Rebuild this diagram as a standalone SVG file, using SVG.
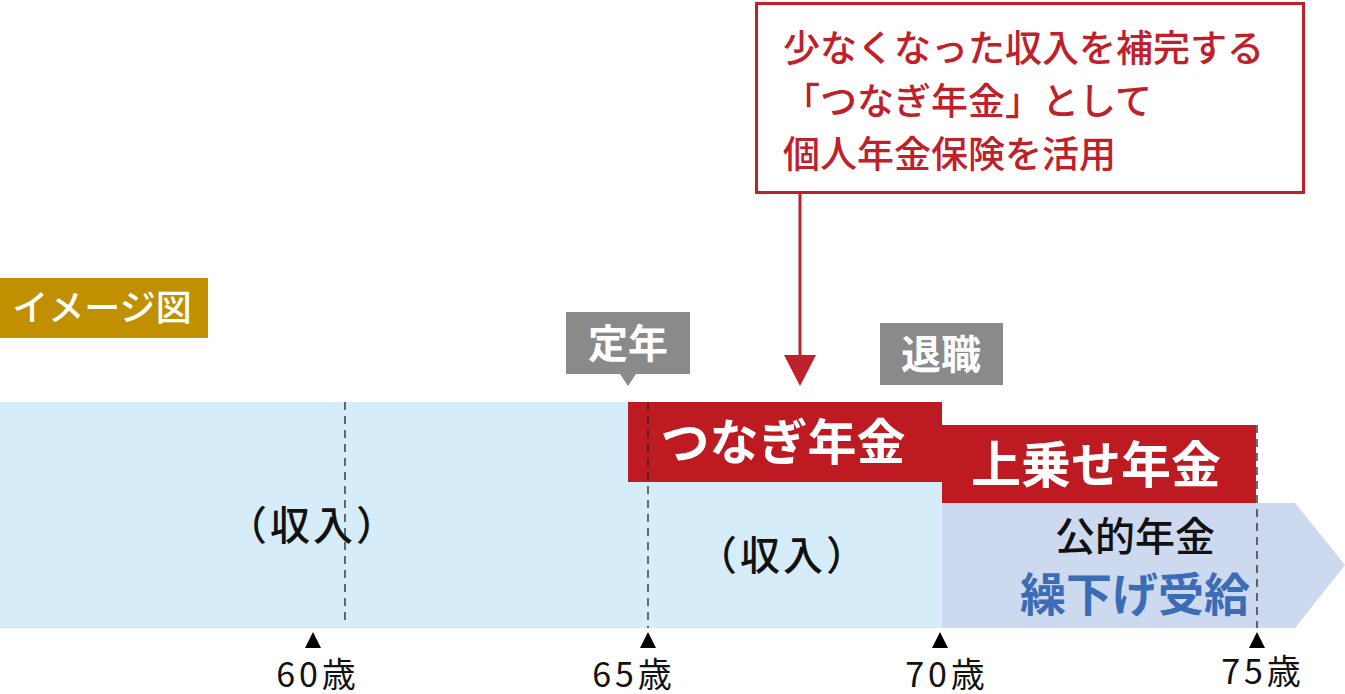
<svg xmlns="http://www.w3.org/2000/svg" width="1345" height="694" viewBox="0 0 1345 694">
<style>
text{font-family:"Noto Sans CJK JP","Noto Sans",sans-serif}
.w{fill:#ffffff;font-weight:bold}
.k{fill:#111111}
.r{fill:#c0202a}
.dash{stroke:#222;stroke-width:1.3;stroke-dasharray:8,6;fill:none}
.age{font-size:34px;fill:#111;text-anchor:middle;letter-spacing:4px}
.tri{fill:#000}
</style>
<rect width="1345" height="694" fill="#fff"/>
<g id="band">
<rect x="0" y="402" width="942" height="226" fill="#d6edf9"/>
</g>
<g id="kouteki-nenkin">
<polygon points="942,503 1295,503 1345,565 1295,628 942,628" fill="#cdd9ef"/>
<text x="1135" y="551" font-size="40" class="k" text-anchor="middle" font-weight="500">公的年金</text>
<text x="1135" y="611" font-size="46" fill="#3a6db5" text-anchor="middle" font-weight="bold">繰下げ受給</text>
</g>
<g id="tsunagi">
<rect x="628" y="402" width="314" height="80" fill="#be1a21"/>
<text x="783" y="460" font-size="49" class="w" text-anchor="middle">つなぎ年金</text>
</g>
<g id="uwanose">
<rect x="942" y="425" width="314" height="78" fill="#be1a21"/>
<text x="1096" y="483" font-size="50" class="w" text-anchor="middle">上乗せ年金</text>
</g>
<g id="income1">
<text x="313" y="540" font-size="40" class="k" text-anchor="middle" font-weight="500" letter-spacing="3">（収入）</text>
</g>
<g id="income2">
<text x="783" y="570" font-size="40" class="k" text-anchor="middle" font-weight="500" letter-spacing="3">（収入）</text>
</g>
<g id="image-label">
<rect x="0" y="278" width="208" height="60" fill="#c09000"/>
<text x="102" y="321" font-size="36" fill="#fff" text-anchor="middle" font-weight="500">イメージ図</text>
</g>
<g id="teinen">
<path d="M566,312 H690 V374 H636 L628,386 L620,374 H566 Z" fill="#8a8a8a"/>
<text x="628" y="358" font-size="40" class="w" text-anchor="middle">定年</text>
</g>
<g id="taishoku">
<rect x="880" y="323" width="123" height="62" fill="#8a8a8a"/>
<text x="941" y="369" font-size="40" class="w" text-anchor="middle">退職</text>
</g>
<g id="callout">
<rect x="756.5" y="3.5" width="547" height="189" fill="#fff" stroke="#c0202a" stroke-width="3"/>
<text x="783" y="62" font-size="37" class="r" font-weight="500">少なくなった収入を補完する</text>
<text x="783" y="115" font-size="37" class="r" font-weight="500">「つなぎ年金」として</text>
<text x="783" y="168" font-size="37" class="r" font-weight="500">個人年金保険を活用</text>
</g>
<g id="connectors">
<line x1="800" y1="193" x2="800" y2="358" stroke="#c0202a" stroke-width="3"/>
<polygon points="784,355 816,355 800,386" fill="#c0202a"/>
<line x1="345" y1="402" x2="345" y2="622" class="dash"/>
<line x1="648" y1="402" x2="648" y2="628" class="dash"/>
<line x1="1257" y1="425" x2="1257" y2="628" class="dash"/>
</g>
<g id="ages">
<polygon class="tri" points="313,632 321,648 305,648"/>
<text class="age" x="318" y="687">60歳</text>
<polygon class="tri" points="648,632 656,648 640,648"/>
<text class="age" x="634" y="687">65歳</text>
<polygon class="tri" points="940,632 948,648 932,648"/>
<text class="age" x="947" y="687">70歳</text>
<polygon class="tri" points="1257,632 1265,648 1249,648"/>
<text class="age" x="1263" y="684">75歳</text>
</g>
</svg>
